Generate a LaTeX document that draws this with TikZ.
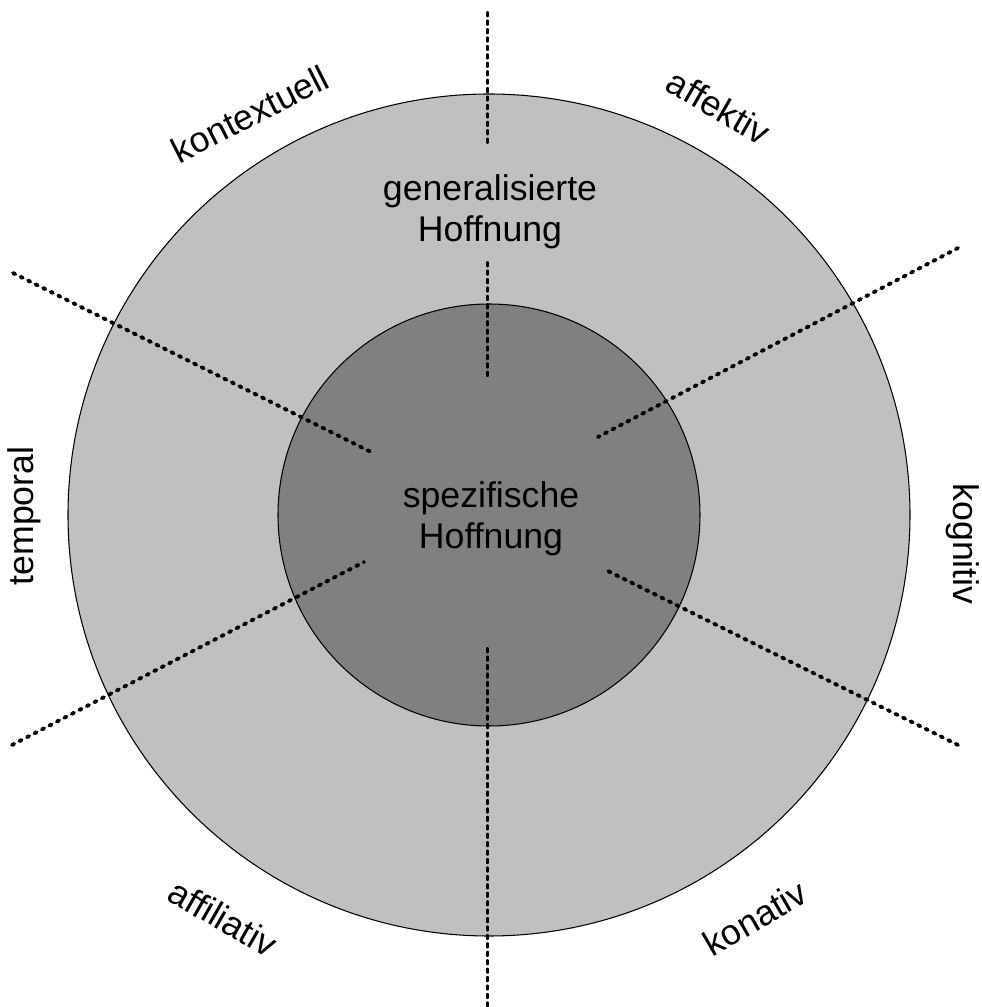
\documentclass[tikz,border=0pt]{standalone}
\usepackage{fontspec}
\setmainfont[Ligatures=NoCommon]{Liberation Sans}
\definecolor{outerring}{RGB}{192,192,192}
\definecolor{innerring}{RGB}{128,128,128}

\begin{document}
\begin{tikzpicture}[x=0.02cm,y=0.02cm,
  ring/.style={draw=black,line width=0.6pt},
  axis line/.style={line width=2.2pt,line cap=round,dash pattern=on 1.4pt off 3.4pt},
  dim label/.style={font=\fontsize{20.3}{23.3}\selectfont,inner sep=0pt},
  core label/.style={font=\fontsize{20.3}{23.3}\selectfont,align=center,inner sep=0pt}]
	\useasboundingbox (-489,-492) rectangle (493,515);
	% rings
	\path[ring,fill=outerring] (0,0) circle (421);
	\path[ring,fill=innerring] (0,0) circle (211);

	% dimension axes
	\coordinate (t-out) at (-1.5,502);
	\coordinate (t-gap) at (-1.5,373);
	\coordinate (t-gap2) at (-1.5,252);
	\coordinate (t-in) at (-1.5,136);
	\coordinate (b-in) at (-1.5,-134);
	\coordinate (b-out) at (-1.5,-492);
	\coordinate (ul-out) at (-476,242);
	\coordinate (ul-in) at (-118,63);
	\coordinate (ur-out) at (469,267);
	\coordinate (ur-in) at (109,78);
	\coordinate (ll-out) at (-477,-230);
	\coordinate (ll-in) at (-125,-47);
	\coordinate (lr-out) at (469,-230);
	\coordinate (lr-in) at (119,-56);
	\foreach \a/\b in {t-out/t-gap,t-gap2/t-in,b-in/b-out,ul-out/ul-in,ur-out/ur-in,ll-out/ll-in,lr-out/lr-in}
		\draw[axis line] (\a) -- (\b);

	\node[core label] (gen) at (1,303) {generalisierte\\Hoffnung};
	\node[core label] (spec) at (2,-4) {spezifische\\Hoffnung};

	\node[dim label,rotate=27] (kontextuell) at (-239,401) {kontextuell};
	\node[dim label,rotate=-30] (affektiv) at (230,408) {affektiv};
	\node[dim label,rotate=90] (temporal) at (-465,-1) {temporal};
	\node[dim label,rotate=-90] (kognitiv) at (474,-29) {kognitiv};
	\node[dim label,rotate=-30] (affiliativ) at (-266,-403) {affiliativ};
	\node[dim label,rotate=30] (konativ) at (266,-403) {konativ};
\end{tikzpicture}
\end{document}
